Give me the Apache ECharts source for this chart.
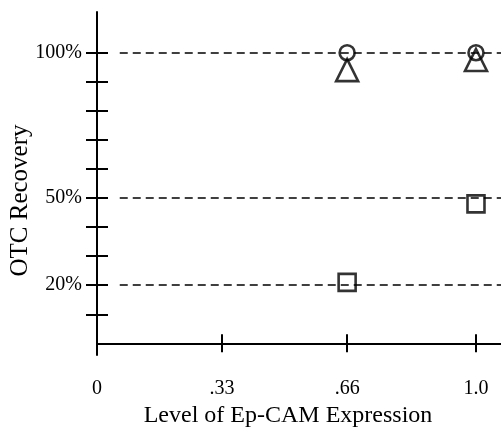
<!DOCTYPE html>
<html>
<head>
<meta charset="utf-8">
<script src="https://cdn.jsdelivr.net/npm/echarts@6/dist/echarts.min.js"></script>
<style>
  html, body { margin: 0; padding: 0; background: #fff; }
  #chart { width: 501px; height: 427px; }
</style>
</head>
<body>
<div id="chart"></div>
<script>
// OTC recovery vs level of Ep-CAM expression (three hollow-marker series)
const X_TICKS = [0, 0.33, 0.66, 1.0];
const X_TICK_LABELS = ['0', '.33', '.66', '1.0'];
const Y_TICKS = [10, 20, 30, 40, 50, 60, 70, 80, 90, 100];
const Y_LABEL_VALUES = [20, 50, 100];
const Y_LABELS = ['20%', '50%', '100%'];
const REF_LINES = [20, 50, 100];

const circlePts = [[0.66, 100], [1.0, 100]];
const trianglePts = [[0.66, 94], [1.0, 97.5]];
const squarePts = [[0.66, 21], [1.0, 48]];

const INK = '#000';
const FONT = 'Liberation Serif';
const DASH_START = 0.06;
const GRID_W = 404;

const xLabelOf = v => {
  const i = X_TICKS.findIndex(t => Math.abs(t - v) < 1e-6);
  return i >= 0 ? X_TICK_LABELS[i] : '';
};
const yLabelOf = v => {
  const i = Y_LABEL_VALUES.indexOf(v);
  return i >= 0 ? Y_LABELS[i] : '';
};

const baseX = {
  type: 'value', min: 0, max: 1.066, position: 'bottom',
  splitLine: { show: false },
};
const baseY = {
  type: 'value', min: -4, max: 114,
  splitLine: { show: false },
};
const tickLine = { color: INK, width: 2 };

const hollow = (symbol, size, data) => ({
  type: 'scatter', symbol, symbolSize: size, data,
  itemStyle: { color: 'rgba(0,0,0,0)', borderColor: INK, borderWidth: 2.6 },
  z: 5,
});

const chart = echarts.init(document.getElementById('chart'));
chart.setOption({
  animation: false,
  grid: { left: 97, width: GRID_W, top: 12, bottom: 72, outerBoundsMode: 'none', containLabel: false },
  xAxis: [
    {
      ...baseX,
      name: 'Level of Ep-CAM Expression',
      nameLocation: 'middle',
      nameGap: 49,
      nameTextStyle: { fontFamily: FONT, fontSize: 24, color: INK, padding: [0, 22, 0, 0] },
      axisLine: { onZero: true, onZeroAxisIndex: 0, lineStyle: { color: INK, width: 2 } },
      axisTick: { customValues: X_TICKS, length: 9, lineStyle: tickLine },
      axisLabel: {
        customValues: X_TICKS, margin: 24, formatter: xLabelOf,
        fontFamily: FONT, fontSize: 20, color: INK,
      },
    },
    {
      ...baseX,
      axisLine: { show: false, onZero: true, onZeroAxisIndex: 0 },
      axisTick: { customValues: X_TICKS, inside: true, length: 9, lineStyle: tickLine },
      axisLabel: { show: false },
    },
  ],
  yAxis: [
    {
      ...baseY,
      position: 'left',
      name: 'OTC Recovery',
      nameLocation: 'middle',
      nameMoveOverlap: false,
      nameGap: 64,
      nameTextStyle: { fontFamily: FONT, fontSize: 25, color: INK, padding: [0, 34, 0, 0] },
      axisLine: { onZero: false, lineStyle: { color: INK, width: 2 } },
      axisTick: { customValues: Y_TICKS, length: 11, lineStyle: tickLine },
      axisLabel: {
        customValues: Y_LABEL_VALUES, margin: 15, formatter: yLabelOf,
        fontFamily: FONT, fontSize: 20, color: INK,
      },
    },
    {
      // second axis sitting on the left edge so its ticks point into the plot
      ...baseY,
      position: 'right',
      offset: -GRID_W,
      axisLine: { show: false, onZero: false },
      axisTick: { customValues: Y_TICKS, length: 11, lineStyle: tickLine },
      axisLabel: { show: false },
    },
  ],
  series: [
    {
      ...hollow('circle', 15, circlePts),
      markLine: {
        silent: true,
        symbol: 'none',
        label: { show: false },
        lineStyle: { color: INK, width: 1.5, type: [8, 5] },
        data: REF_LINES.map(v => [{ coord: [DASH_START, v] }, { coord: [1.066, v] }]),
      },
    },
    hollow('triangle', 22, trianglePts),
    hollow('rect', 17, squarePts),
  ],
});
</script>
</body>
</html>
